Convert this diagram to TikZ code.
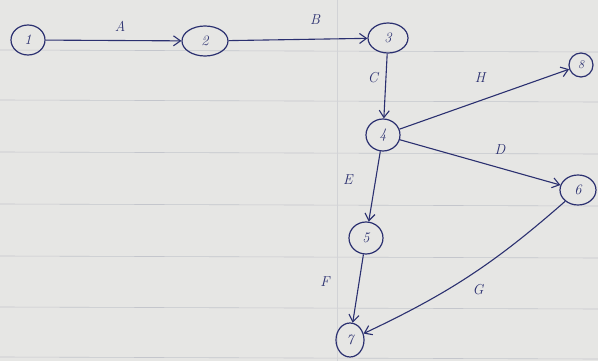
\documentclass[tikz,border=0pt]{standalone}
\usetikzlibrary{arrows.meta,shapes.geometric}
\definecolor{ink}{HTML}{2B3070}
\definecolor{paper}{HTML}{E6E6E4}
\definecolor{rule}{HTML}{C4C6CC}
\begin{document}
\begin{tikzpicture}[x=1pt,y=-1pt,
  ev/.style={draw=ink,line width=1.2pt,ellipse,inner sep=0pt,text=ink,font=\Large\itshape},
  act/.style={draw=ink,line width=1.1pt,-{Straight Barb[length=7pt,width=10pt]}},
  lab/.style={text=ink,font=\Large\itshape}]
\fill[paper] (0,0) rectangle (598,361);
\useasboundingbox (0,0) rectangle (598,361);
\foreach \y in {50,100,152,204,256,307,357}
  \draw[rule,line width=0.6pt] (0,\y) -- (598,\y+2);
\draw[rule!60!paper,line width=0.4pt] (337,0) -- (337,361);
\node[ev,minimum width=34pt,minimum height=30pt] (n1) at (28,40) {1};
\node[ev,minimum width=46pt,minimum height=30pt] (n2) at (205,41) {2};
\node[ev,minimum width=40pt,minimum height=30pt] (n3) at (388,38) {3};
\node[ev,minimum width=24pt,minimum height=24pt,font=\large\itshape] (n8) at (581,65) {8};
\node[ev,minimum width=34pt,minimum height=32pt] (n4) at (383,135) {4};
\node[ev,minimum width=36pt,minimum height=30pt] (n6) at (578,190) {6};
\node[ev,minimum width=34pt,minimum height=32pt] (n5) at (366,238) {5};
\node[ev,minimum width=28pt,minimum height=34pt] (n7) at (350,340) {7};
\draw[act] (n1) -- (n2);
\draw[act] (n2) -- (n3);
\draw[act] (n3) -- (n4);
\draw[act] (n4) -- (n8);
\draw[act] (n4) -- (n6);
\draw[act] (n4) -- (n5);
\draw[act] (n5) -- (n7);
\draw[act] (n6) to[bend left=8] (n7);
\node[lab] (la) at (120,26) {A};
\node[lab] (lb) at (315,20) {B};
\node[lab] (lc) at (373,78) {C};
\node[lab] (lh) at (480,78) {H};
\node[lab] (ld) at (500,150) {D};
\node[lab] (le) at (348,180) {E};
\node[lab] (lf) at (325,282) {F};
\node[lab] (lg) at (478,290) {G};
\end{tikzpicture}
\end{document}
